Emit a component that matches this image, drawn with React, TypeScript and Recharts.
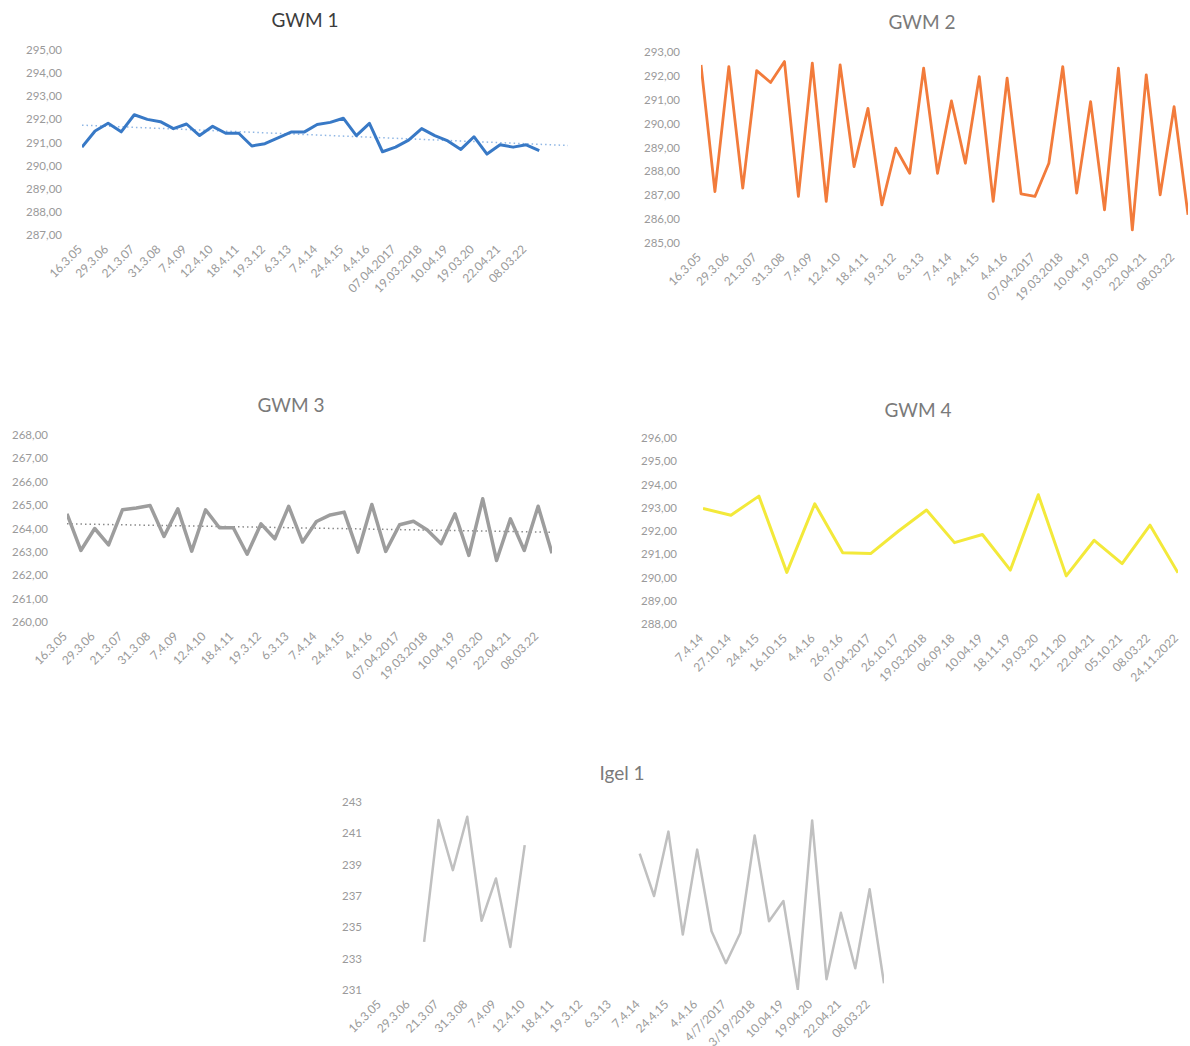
import React from "react";
import { LineChart, Line, XAxis, YAxis } from "recharts";

// tick labels shown on the category axes (every second date for the long series)
const gwmDates = ["16.3.05", "29.3.06", "21.3.07", "31.3.08", "7.4.09", "12.4.10", "18.4.11", "19.3.12", "6.3.13", "7.4.14", "24.4.15", "4.4.16", "07.04.2017", "19.03.2018", "10.04.19", "19.03.20", "22.04.21", "08.03.22"];
const igelDates = ["16.3.05", "29.3.06", "21.3.07", "31.3.08", "7.4.09", "12.4.10", "18.4.11", "19.3.12", "6.3.13", "7.4.14", "24.4.15", "4.4.16", "4/7/2017", "3/19/2018", "10.04.19", "19.04.20", "22.04.21", "08.03.22"];
const gwm4Dates = ["7.4.14", "27.10.14", "24.4.15", "16.10.15", "4.4.16", "26.9.16", "07.04.2017", "26.10.17", "19.03.2018", "06.09.18", "10.04.19", "18.11.19", "19.03.20", "12.11.20", "22.04.21", "05.10.21", "08.03.22", "24.11.2022"];

const gwm1 = [290.8, 291.5, 291.83, 291.46, 292.2, 292.0, 291.9, 291.6, 291.8, 291.3, 291.7, 291.4, 291.4, 290.85, 290.95, 291.2, 291.45, 291.45, 291.78, 291.87, 292.05, 291.3, 291.83, 290.6, 290.8, 291.1, 291.6, 291.3, 291.07, 290.7, 291.25, 290.5, 290.9, 290.8, 290.9, 290.65];
const gwm1Trend = [{ i: 0, t: 291.75 }, { i: 37.2, t: 290.87 }];

const gwm2 = [292.46, 287.15, 292.39, 287.3, 292.22, 291.72, 292.6, 286.95, 292.53, 286.74, 292.46, 288.2, 290.64, 286.6, 288.97, 287.92, 292.32, 287.92, 290.95, 288.34, 291.97, 286.74, 291.9, 287.06, 286.95, 288.34, 292.39, 287.09, 290.92, 286.39, 292.32, 285.55, 292.04, 287.02, 290.71, 286.18];

const gwm3 = [264.63, 263.06, 264.0, 263.3, 264.8, 264.88, 264.98, 263.66, 264.84, 263.03, 264.8, 264.03, 264.03, 262.9, 264.2, 263.56, 264.95, 263.42, 264.3, 264.58, 264.7, 262.99, 265.03, 263.02, 264.16, 264.31, 263.94, 263.35, 264.63, 262.85, 265.27, 262.63, 264.41, 263.06, 264.95, 262.94];
const gwm3Trend = [{ i: 0, t: 264.2 }, { i: 35, t: 263.84 }];

const gwm4 = [292.97, 292.68, 293.5, 290.22, 293.17, 291.06, 291.03, 292.0, 292.9, 291.5, 291.85, 290.32, 293.56, 290.07, 291.6, 290.6, 292.25, 290.2];

const igel1 = [null, null, null, 234.07, 241.85, 238.65, 242.06, 235.42, 238.12, 233.75, 240.25, null, null, null, null, null, null, null, 239.7, 237.0, 241.11, 234.54, 239.96, 234.75, 232.71, 234.64, 240.86, 235.39, 236.68, 231.04, 241.82, 231.69, 235.93, 232.39, 237.43, 231.43];

const gwm1Ticks = [287, 288, 289, 290, 291, 292, 293, 294, 295];
const gwm2Ticks = [285, 286, 287, 288, 289, 290, 291, 292, 293];
const gwm3Ticks = [260, 261, 262, 263, 264, 265, 266, 267, 268];
const gwm4Ticks = [288, 289, 290, 291, 292, 293, 294, 295, 296];
const igelTicks = [231, 233, 235, 237, 239, 241, 243];

const FONT = "Lato, 'Open Sans', sans-serif";
const rows = (vals: (number | null)[]) => vals.map((v, i) => ({ i, v }));
const comma = (v: number) => v.toFixed(2).replace(".", ",");

function SlantTick(props: any) {
  const { x, y, payload, labels, step } = props;
  const label = labels[Math.round(payload.value / step)];
  const ax = x + 1;
  const ay = y + 7;
  return (
    <text x={ax} y={ay} transform={`rotate(-45 ${ax} ${ay})`} textAnchor="end" fill="#9a9a9a" fontSize={12} fontFamily={FONT}>
      {label}
    </text>
  );
}

function Panel(p: any) {
  const { left, top, width, height, plotLeft, plotRight, plotTop, plotBottom, xDomain, yDomain, yTicks, fmt, labels, step, data, color, strokeWidth, trend, trendColor, title, titleX, titleY, titleColor, yGap } = p;
  const xTicks = labels.map((_: string, k: number) => k * step);
  return (
    <>
      <div style={{ position: "absolute", left: titleX - 100, top: titleY - 12, width: 200, textAlign: "center", fontFamily: FONT, fontSize: 19, color: titleColor, lineHeight: "24px" }}>{title}</div>
      <div style={{ position: "absolute", left, top }}>
        <LineChart width={width} height={height} data={data} margin={{ left: 0, top: plotTop - top, right: left + width - plotRight, bottom: 0 }}>
          <XAxis type="number" dataKey="i" domain={xDomain} ticks={xTicks} interval={0} axisLine={false} tickLine={false} tickSize={0} tickMargin={8} height={top + height - plotBottom} tick={<SlantTick labels={labels} step={step} />} allowDataOverflow />
          <YAxis type="number" domain={yDomain} ticks={yTicks} interval={0} axisLine={false} tickLine={false} tickSize={0} tickMargin={yGap} width={plotLeft - left} tickFormatter={fmt} tick={{ fill: "#9a9a9a", fontSize: 11.5, fontFamily: FONT }} allowDataOverflow />
          {trend && (
            <Line data={trend} dataKey="t" stroke={trendColor} strokeWidth={1.5} strokeDasharray="1.5 3" dot={false} activeDot={false} isAnimationActive={false} />
          )}
          <Line dataKey="v" stroke={color} strokeWidth={strokeWidth} dot={false} activeDot={false} isAnimationActive={false} strokeLinejoin="round" />
        </LineChart>
      </div>
    </>
  );
}

export default function App() {
  return (
    <div style={{ position: "absolute", left: 0, top: 0, width: 1190, height: 1046, background: "#fff", overflow: "hidden" }}>
      <Panel title="GWM 1" titleX={305} titleY={20} titleColor="#3c3c3c"
        left={0} top={0} width={600} height={330} plotLeft={82} plotRight={568} plotTop={50} plotBottom={235} yGap={20}
        xDomain={[0, 37.2]} yDomain={[287, 295]} yTicks={gwm1Ticks} fmt={comma} labels={gwmDates} step={2}
        data={rows(gwm1)} color="#3879c6" strokeWidth={3} trend={gwm1Trend} trendColor="#8fb6e4" />
      <Panel title="GWM 2" titleX={922} titleY={22} titleColor="#7a7a7a"
        left={600} top={0} width={590} height={330} plotLeft={701} plotRight={1188} plotTop={52} plotBottom={243} yGap={21}
        xDomain={[0, 35]} yDomain={[285, 293]} yTicks={gwm2Ticks} fmt={comma} labels={gwmDates} step={2}
        data={rows(gwm2)} color="#f27b3b" strokeWidth={2.8} />
      <Panel title="GWM 3" titleX={291} titleY={405} titleColor="#7a7a7a"
        left={0} top={380} width={600} height={310} plotLeft={67} plotRight={552} plotTop={435} plotBottom={622} yGap={19}
        xDomain={[0, 35]} yDomain={[260, 268]} yTicks={gwm3Ticks} fmt={comma} labels={gwmDates} step={2}
        data={rows(gwm3)} color="#9d9d9d" strokeWidth={3.5} trend={gwm3Trend} trendColor="#8a8a8a" />
      <Panel title="GWM 4" titleX={918} titleY={410} titleColor="#7a7a7a"
        left={600} top={380} width={590} height={310} plotLeft={703} plotRight={1178} plotTop={438} plotBottom={624} yGap={26}
        xDomain={[0, 17]} yDomain={[288, 296]} yTicks={gwm4Ticks} fmt={comma} labels={gwm4Dates} step={1}
        data={rows(gwm4)} color="#f3e93a" strokeWidth={3} />
      <Panel title="Igel 1" titleX={622} titleY={773} titleColor="#7a7a7a"
        left={330} top={750} width={600} height={296} plotLeft={381} plotRight={884} plotTop={802} plotBottom={990} yGap={19}
        xDomain={[0, 35]} yDomain={[231, 243]} yTicks={igelTicks} fmt={(v: number) => String(v)} labels={igelDates} step={2}
        data={rows(igel1)} color="#c0c0c0" strokeWidth={2.5} />
    </div>
  );
}
